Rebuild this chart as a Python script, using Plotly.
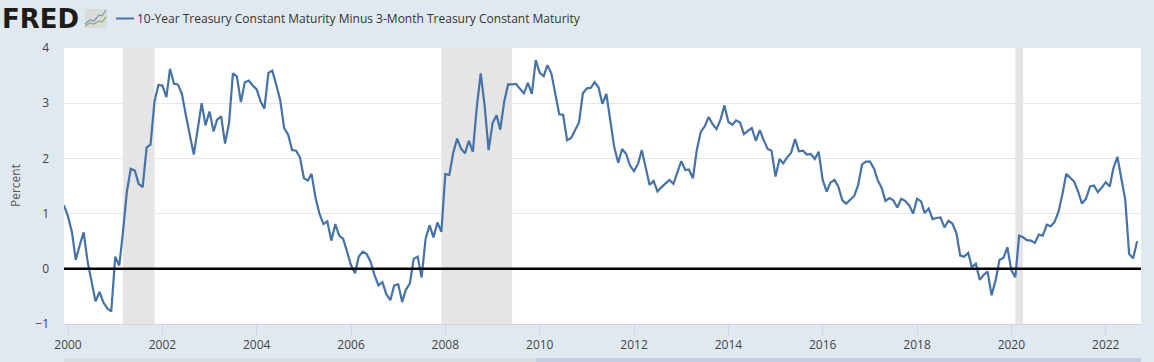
import pandas as pd
import plotly.graph_objects as go

START_DATE = "1999-12-01"
SERIES_NAME = "10-Year Treasury Constant Maturity Minus 3-Month Treasury Constant Maturity"
Y_TITLE = "Percent"
SPREAD = [
    1.15, 0.95, 0.66, 0.16, 0.43, 0.66, 0.13, -0.26, -0.59, -0.42, -0.61, -0.72, -0.77,
    0.22, 0.06, 0.65, 1.40, 1.81, 1.78, 1.54, 1.48, 2.20, 2.25, 3.03, 3.33,
    3.32, 3.11, 3.62, 3.35, 3.34, 3.17, 2.79, 2.43, 2.07, 2.52, 3.00, 2.60,
    2.85, 2.49, 2.70, 2.76, 2.27, 2.64, 3.54, 3.48, 3.02, 3.38, 3.41, 3.32,
    3.25, 3.03, 2.90, 3.55, 3.59, 3.33, 3.06, 2.55, 2.43, 2.15, 2.14, 2.02,
    1.64, 1.60, 1.72, 1.28, 1.00, 0.81, 0.86, 0.51, 0.81, 0.60, 0.54, 0.31,
    0.06, -0.08, 0.22, 0.31, 0.27, 0.13, -0.11, -0.30, -0.24, -0.46, -0.57, -0.30,
    -0.28, -0.60, -0.38, -0.27, 0.18, 0.22, -0.16, 0.54, 0.79, 0.57, 0.84, 0.67,
    1.72, 1.70, 2.09, 2.36, 2.18, 2.09, 2.32, 2.12, 2.94, 3.54, 2.94, 2.15,
    2.64, 2.78, 2.52, 3.03, 3.34, 3.34, 3.35, 3.26, 3.18, 3.37, 3.17, 3.78,
    3.55, 3.49, 3.69, 3.54, 3.15, 2.80, 2.79, 2.33, 2.37, 2.52, 2.65, 3.18,
    3.27, 3.28, 3.38, 3.29, 2.99, 3.17, 2.70, 2.20, 1.92, 2.17, 2.08, 1.87,
    1.77, 1.90, 2.15, 1.85, 1.52, 1.59, 1.40, 1.48, 1.55, 1.61, 1.54, 1.73,
    1.95, 1.79, 1.80, 1.64, 2.15, 2.48, 2.58, 2.75, 2.62, 2.53, 2.70, 2.96,
    2.66, 2.61, 2.69, 2.65, 2.44, 2.50, 2.55, 2.32, 2.51, 2.33, 2.17, 2.14,
    1.67, 1.99, 1.91, 2.02, 2.10, 2.35, 2.13, 2.14, 2.07, 2.08, 1.99, 2.12,
    1.61, 1.40, 1.56, 1.61, 1.49, 1.24, 1.18, 1.25, 1.32, 1.51, 1.89, 1.94,
    1.94, 1.82, 1.61, 1.47, 1.23, 1.28, 1.24, 1.11, 1.27, 1.23, 1.15, 1.00,
    1.27, 1.22, 1.01, 1.09, 0.90, 0.92, 0.93, 0.75, 0.87, 0.82, 0.65, 0.24,
    0.22, 0.29, 0.03, 0.09, -0.20, -0.11, -0.05, -0.48, -0.21, 0.16, 0.20, 0.39,
    -0.03, -0.15, 0.60, 0.57, 0.52, 0.51, 0.47, 0.62, 0.60, 0.80, 0.77, 0.85,
    1.04, 1.37, 1.72, 1.65, 1.58, 1.40, 1.18, 1.27, 1.49, 1.51, 1.39, 1.47,
    1.57, 1.49, 1.82, 2.03, 1.67, 1.25, 0.27, 0.19, 0.50,
]
RECESSION_STARTS = ["2001-03-01", "2007-12-01", "2020-02-01"]
RECESSION_ENDS = ["2001-11-01", "2009-06-01", "2020-04-01"]
X_TICK_YEARS = list(range(2000, 2023, 2))
Y_TICKS = [-1, 0, 1, 2, 3, 4]

W, H = 1154, 362
L, R, T, B = 64, 1141, 48, 324
FONT = "Open Sans"
BG = "#e1e9f0"


def px(x):
    return (x - L) / (R - L)


def py(y):
    return (B - y) / (B - T)


dates = pd.date_range(START_DATE, periods=len(SPREAD), freq="MS")

fig = go.Figure(
    go.Scatter(x=dates, y=SPREAD, mode="lines", name=SERIES_NAME,
               line=dict(color="#4572a7", width=2.2), hovertemplate="%{x|%b %Y}: %{y}<extra></extra>")
)

shapes = []
for s, e in zip(RECESSION_STARTS, RECESSION_ENDS):
    shapes.append(dict(type="rect", xref="x", yref="paper", x0=s, x1=e, y0=0, y1=1,
                       fillcolor="#e5e5e5", line_width=0, layer="between"))
# zero reference line, drawn above the series
shapes.append(dict(type="line", xref="paper", yref="y", x0=0, x1=1, y0=0, y1=0,
                   line=dict(color="#000000", width=2.4), layer="above"))
# legend key
shapes.append(dict(type="line", xref="paper", yref="paper", x0=px(116), x1=px(134), y0=py(18.5), y1=py(18.5),
                   line=dict(color="#4572a7", width=2)))
# range navigator strip at the bottom
shapes.append(dict(type="rect", xref="paper", yref="paper", x0=0, x1=1, y0=py(358), y1=py(362),
                   fillcolor="#d8dcdf", line_width=0))
shapes.append(dict(type="rect", xref="paper", yref="paper", x0=px(536), x1=1, y0=py(358), y1=py(362),
                   fillcolor="#c3cde0", line_width=0))
# FRED logo icon
shapes.append(dict(type="rect", xref="paper", yref="paper", x0=px(85), x1=px(107), y0=py(28), y1=py(9),
                   fillcolor="#d9dcdb", line_width=0))


def icon_path(points):
    return "M " + " L ".join(f"{px(a):.5f},{py(b):.5f}" for a, b in points)


shapes.append(dict(type="path", xref="paper", yref="paper",
                   path=icon_path([(85, 24), (90, 20), (94, 21), (99, 15), (102, 16), (106, 10)]),
                   line=dict(color="#7d9bb8", width=1.2)))
shapes.append(dict(type="path", xref="paper", yref="paper",
                   path=icon_path([(85, 26), (90, 23), (94, 24), (99, 21), (102, 22), (106, 17)]),
                   line=dict(color="#8fae6d", width=1.2)))

annotations = [
    dict(text="<b>FRED</b>", xref="paper", yref="paper", x=px(0), y=py(18.5), xanchor="left", yanchor="middle",
         showarrow=False, font=dict(family="DejaVu Sans", size=26, color="#1e1b1b")),
    dict(text=SERIES_NAME, xref="paper", yref="paper", x=px(135), y=py(18.5), xanchor="left", yanchor="middle",
         showarrow=False, font=dict(family=FONT, size=12, color="#333333")),
    dict(text=Y_TITLE, xref="paper", yref="paper", x=px(15), y=py(186), xanchor="center", yanchor="middle",
         textangle=-90, showarrow=False, font=dict(family=FONT, size=12, color="#555555")),
]

fig.update_layout(
    width=W, height=H,
    margin=dict(l=L, r=W - R, t=T, b=H - B, pad=0, autoexpand=False),
    paper_bgcolor=BG, plot_bgcolor="#ffffff",
    showlegend=False,
    font=dict(family=FONT, size=12, color="#444444"),
    shapes=shapes, annotations=annotations,
    xaxis=dict(
        type="date",
        automargin=False,
        range=["1999-12-01", "2022-10-01"],
        tickvals=[f"{y}-01-01" for y in X_TICK_YEARS],
        ticktext=[str(y) for y in X_TICK_YEARS],
        ticks="outside", ticklen=10, tickwidth=1, tickcolor="#ccd6eb",
        showline=True, linecolor="#ccd6eb", linewidth=1,
        showgrid=False, zeroline=False,
        tickfont=dict(family=FONT, size=12, color="#444444"),
    ),
    yaxis=dict(
        automargin=False,
        range=[-1, 4],
        tickvals=Y_TICKS,
        showgrid=True, gridcolor="#e6e6e6", gridwidth=1,
        zeroline=False, showline=False, ticks="",
        ticklabelstandoff=14,
        tickfont=dict(family=FONT, size=12, color="#444444"),
    ),
)

fig.write_html(
    "out.html",
    config={"displayModeBar": False},
    post_script="document.body.style.margin='0';document.body.style.overflow='hidden';",
)
